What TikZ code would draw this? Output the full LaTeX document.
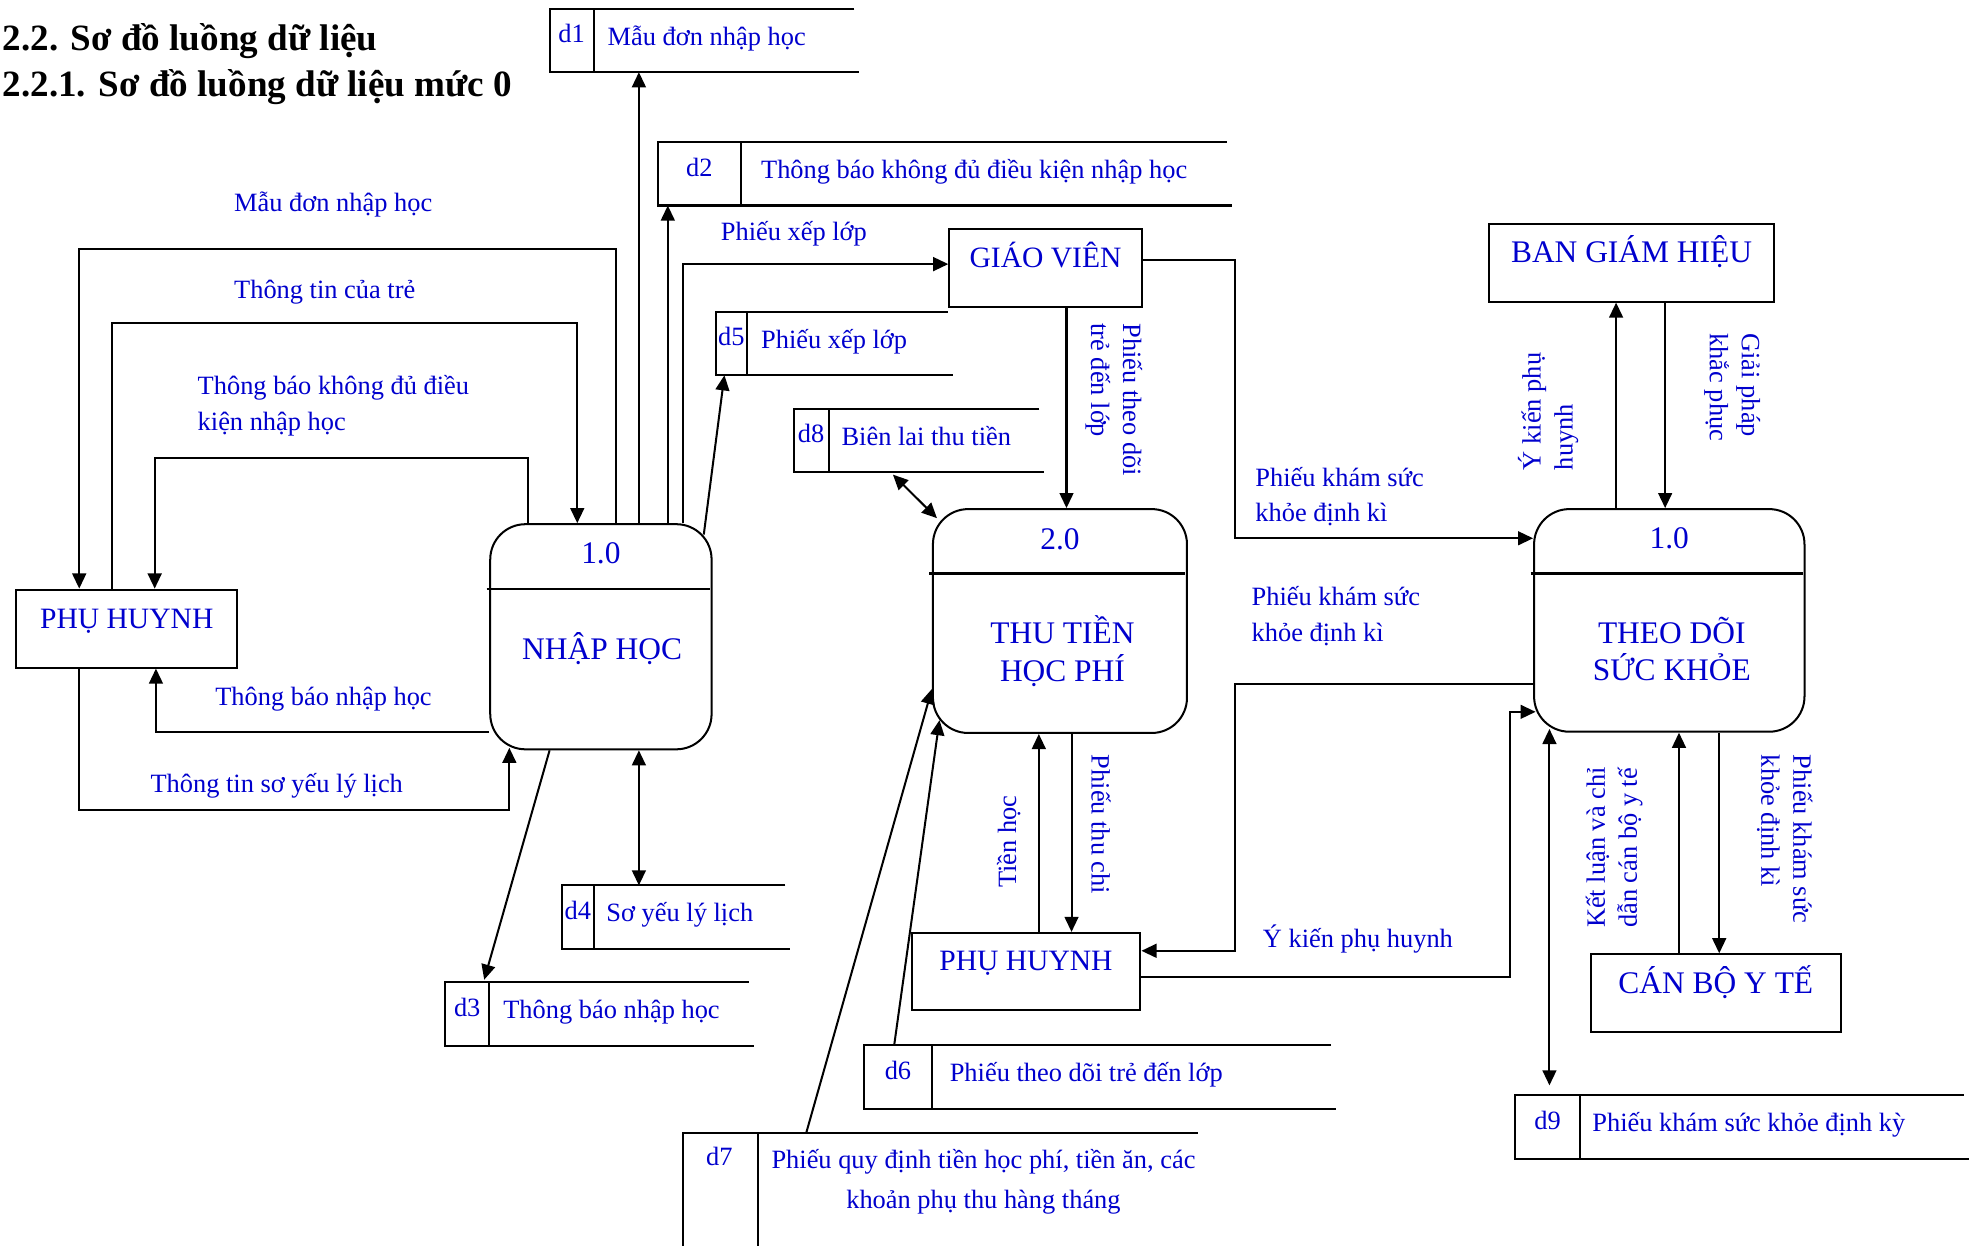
\documentclass[tikz,border=0pt]{standalone}
\usepackage{fontspec}
\setmainfont{Liberation Serif}
\usetikzlibrary{calc,arrows.meta}
\definecolor{ink}{RGB}{0,0,205}

% data store: #1 name, #2 left x, #3 top y, #4 width, #5 divider offset,
% #6 id, #7 gap before label, #8 label
\newcommand{\dstore}[8]{%
  \node[store, minimum width=#4pt, anchor=north west] (#1) at (#2,#3) {};
  \draw[line] ($(#1.north east)+(-4,0)$) -- (#1.north west) -- (#1.south west) -- (#1.south east);
  \draw[line] ($(#1.north west)+(#5,0)$) -- ($(#1.south west)+(#5,0)$);
  \node[lbl, anchor=base] (#1id) at ($(#1.north west)+(#5/2,27)$) {#6};
  \node[lbl, anchor=base west] (#1txt) at ($(#1.north west)+(#5+#7,29)$) {#8};
}

\begin{document}
\begin{tikzpicture}[x=1pt,y=-1pt,
  line/.style={line width=1.6pt},
  flow/.style={line, -{Triangle[length=12pt,width=11pt]}},
  bflow/.style={line, {Triangle[length=12pt,width=11pt]}-{Triangle[length=12pt,width=11pt]}},
  lbl/.style={text=ink, font=\fontsize{21}{28.5}\selectfont, inner sep=0},
  vlab/.style={text=ink, font=\fontsize{21}{25.5}\selectfont, inner sep=0, align=left, anchor=base west},
  vdown/.style={vlab, rotate=-90},
  vup/.style={vlab, rotate=90},
  store/.style={draw=none, minimum height=50pt, inner sep=0},
  entity/.style={draw, line width=1.6pt, anchor=north west, inner xsep=0, inner ysep=0,
    text height=31pt, text depth=31pt, text=ink, font=\fontsize{23.5}{28}\selectfont},
  proc/.style={draw, line width=1.6pt, rounded corners=28pt, anchor=north west, inner sep=0},
  ptext/.style={text=ink, font=\fontsize{25}{29.5}\selectfont, inner sep=0, align=center, anchor=base},
  title/.style={font=\bfseries\fontsize{29.5}{34}\selectfont, inner sep=0, anchor=base west}
]
\useasboundingbox (0,0) rectangle (1568,990);

% headings
\node[title] (t1) at (2,40) {2.2. Sơ đồ luồng dữ liệu};
\node[title] (t2) at (2,77) {2.2.1. Sơ đồ luồng dữ liệu mức 0};

% external entities
\node[entity, minimum width=176pt] (ph1) at (12,468) {PHỤ HUYNH};
\node[entity, minimum width=153pt] (gv) at (754,181) {GIÁO VIÊN};
\node[entity, minimum width=227pt, font=\fontsize{25}{28}\selectfont] (bgh) at (1183,177) {BAN GIÁM HIỆU};
\node[entity, minimum width=182pt, text depth=31pt, text height=30pt] (ph2) at (724,741) {PHỤ HUYNH};
\node[entity, minimum width=199pt, font=\fontsize{25}{28}\selectfont] (cb) at (1264,758) {CÁN BỘ Y TẾ};

% processes (multi-line names sit on the baseline of their last line)
\node[proc, minimum width=176pt, minimum height=179pt] (p1) at (389,416) {};
\draw[line] ($(p1.north west)+(-2,52)$) -- ($(p1.north east)+(-2,52)$);
\node[ptext] (p1n) at ($(p1.north)+(0,32)$) {1.0};
\node[ptext] (p1t) at ($(p1.north)+(1,108)$) {NHẬP HỌC};

\node[proc, minimum width=202pt, minimum height=178pt] (p2) at (741,404) {};
\draw[line] ($(p2.north west)+(-2,52)$) -- ($(p2.north east)+(-2,52)$);
\node[ptext] (p2n) at ($(p2.north)+(0,33)$) {2.0};
\node[ptext] (p2t) at ($(p2.north)+(2,137.5)$) {THU TIỀN\\HỌC PHÍ};

\node[proc, minimum width=215pt, minimum height=177pt] (p3) at (1219,404) {};
\draw[line] ($(p3.north west)+(-2,52)$) -- ($(p3.north east)+(-2,52)$);
\node[ptext] (p3n) at ($(p3.north)+(0,32)$) {1.0};
\node[ptext] (p3t) at ($(p3.north)+(2,137)$) {THEO DÕI\\SỨC KHỎE};

% data stores
\dstore{d1}{437}{7}{246}{35}{d1}{11}{Mẫu đơn nhập học}
\dstore{d2}{523}{113}{456}{66}{d2}{16}{Thông báo không đủ điều kiện nhập học}
\dstore{d5}{569}{248}{188}{25}{d5}{11}{Phiếu xếp lớp}
\dstore{d8}{631}{325}{199}{28}{d8}{10}{Biên lai thu tiền}
\dstore{d4}{447}{704}{181}{25}{d4}{10}{Sơ yếu lý lịch}
\dstore{d3}{354}{781}{245}{35}{d3}{11}{Thông báo nhập học}
\dstore{d6}{687}{831}{375}{54}{d6}{14}{Phiếu theo dõi trẻ đến lớp}
\dstore{d9}{1205}{871}{360}{51}{d9}{10}{Phiếu khám sức khỏe định kỳ}

% d7 runs past the lower edge
\node[store, minimum width=409pt, minimum height=89pt, anchor=north west] (d7) at (543,901) {};
\draw[line] (d7.north east) -- (d7.north west) -- (d7.south west);
\draw[line] ($(d7.north west)+(60,0)$) -- ($(d7.south west)+(60,0)$);
\node[lbl, anchor=base] (d7id) at ($(d7.north west)+(29,26)$) {d7};
\node[lbl, anchor=base, align=center, font=\fontsize{21}{32}\selectfont] (d7txt) at (782,961)
  {Phiếu quy định tiền học phí, tiền ăn, các\\khoản phụ thu hàng tháng};

% flows between PHỤ HUYNH and NHẬP HỌC
\draw[flow] (p1.north -| 490,0) |- (63,198) -- (ph1.north -| 63,0);
\draw[flow] (ph1.north -| 89,0) |- (459,257) -- (p1.north -| 459,0);
\draw[flow] (p1.north -| 420,0) |- (123,364) -- (ph1.north -| 123,0);
\draw[flow] (p1.west |- 0,582) -| (ph1.south -| 124,0);
\draw[flow] (ph1.south -| 63,0) |- (405,644) -- ($(p1.south -| 405,0)+(0,-2)$);

% NHẬP HỌC to stores and GIÁO VIÊN
\draw[flow] (p1.north -| 508,0) -- (d1.south -| 508,0);
\draw[flow] (p1.north -| 531,0) -- (d2.south -| 531,0);
\draw[flow] (p1.north -| 543,0) |- (gv.west |- 0,210);
\draw[flow] ($(p1.north east)+(-7,9)$) -- (d5.south -| 576,0);
\draw[flow] ($(p1.south west)+(48,0)$) -- ($(d3.north -| 385,0)+(0,-2)$);
\draw[bflow] (p1.south -| 508,0) -- (d4.north -| 508,0);

% THU TIỀN HỌC PHÍ
\draw[bflow] ($(d8.south west)+(79,2)$) -- ($(p2.north west)+(4,8)$);
\draw[flow] (gv.south -| 848,0) -- (p2.north -| 848,0);
\draw[flow] (ph2.north -| 826,0) -- (p2.south -| 826,0);
\draw[flow] (p2.south -| 852,0) -- (ph2.north -| 852,0);
\draw[flow] (d6.north -| 711,0) -- ($(p2.south west)+(6,-11)$);
\draw[flow] (d7.north -| 641,0) -- ($(p2.west)+(0,54)$);

% THEO DÕI SỨC KHỎE
\draw[flow] (gv.east |- 0,207) -| (982,428) -- (p3.west |- 0,428);
\draw[flow] (p3.west |- 0,544) -| (982,756) -- (ph2.east |- 0,756);
\draw[flow] (ph2.east |- 0,777) -| (1201,566) -- ($(p3.west |- 0,566)+(2,0)$);
\draw[flow] (p3.north -| 1285,0) -- (bgh.south -| 1285,0);
\draw[flow] (bgh.south -| 1324,0) -- (p3.north -| 1324,0);
\draw[bflow] ($(p3.south west)+(13,-3)$) -- ($(d9.north -| 1232,0)+(0,-8)$);
\draw[flow] (cb.north -| 1335,0) -- (p3.south -| 1335,0);
\draw[flow] (p3.south -| 1367,0) -- (cb.north -| 1367,0);

% flow labels (multi-line ones placed by their last baseline)
\node[lbl, anchor=base west] (l1) at (186,168.5) {Mẫu đơn nhập học};
\node[lbl, anchor=base west] (l2) at (186,237) {Thông tin của trẻ};
\node[lbl, anchor=base west, align=left] (l3) at (157,342.5) {Thông báo không đủ điều\\kiện nhập học};
\node[lbl, anchor=base west] (l4) at (171,561) {Thông báo nhập học};
\node[lbl, anchor=base west] (l5) at (119.5,630.5) {Thông tin sơ yếu lý lịch};
\node[lbl, anchor=base west] (l6) at (573,191.5) {Phiếu xếp lớp};
\node[lbl, anchor=base west, align=left] (l7) at (998,415) {Phiếu khám sức\\khỏe định kì};
\node[lbl, anchor=base west, align=left] (l8) at (995,510) {Phiếu khám sức\\khỏe định kì};
\node[lbl, anchor=base west] (l9) at (1004,753) {Ý kiến phụ huynh};

\node[vdown] (v1) at (867.5,257) {Phiếu theo dõi\\trẻ đến lớp};
\node[vup] (v2) at (1250.5,374) {Ý kiến phụ\\huynh};
\node[vdown] (v3) at (1359.5,265) {Giải pháp\\khắc phục};
\node[vup] (v4) at (808,706) {Tiền học};
\node[vdown] (v5) at (868,600) {Phiếu thu chi};
\node[vup] (v6) at (1301.5,738) {Kết luận và chỉ\\dẫn cán bộ y tế};
\node[vdown] (v7) at (1400.5,600) {Phiếu khám sức\\khỏe định kì};
\end{tikzpicture}
\end{document}
